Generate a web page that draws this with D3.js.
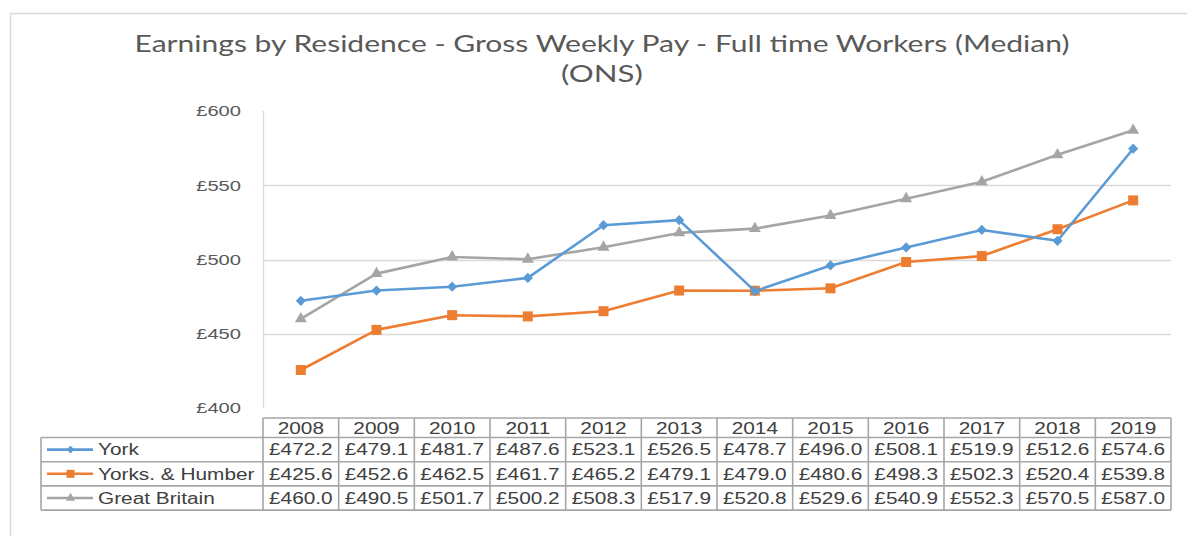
<!DOCTYPE html>
<html>
<head>
<meta charset="utf-8">
<script src="https://cdn.jsdelivr.net/npm/d3@7"></script>
<style>
  body { margin: 0; background: #fff; }
  svg { display: block; }
</style>
</head>
<body>
<script>
// chart values
var years = ["2008", "2009", "2010", "2011", "2012", "2013", "2014", "2015", "2016", "2017", "2018", "2019"];
var york = [472.2, 479.1, 481.7, 487.6, 523.1, 526.5, 478.7, 496.0, 508.1, 519.9, 512.6, 574.6];
var yorksHumber = [425.6, 452.6, 462.5, 461.7, 465.2, 479.1, 479.0, 480.6, 498.3, 502.3, 520.4, 539.8];
var greatBritain = [460.0, 490.5, 501.7, 500.2, 508.3, 517.9, 520.8, 529.6, 540.9, 552.3, 570.5, 587.0];
var seriesNames = ["York", "Yorks. & Humber", "Great Britain"];
var yTicks = [400, 450, 500, 550, 600];
var titleLines = ["Earnings by Residence - Gross Weekly Pay - Full time Workers (Median)", "(ONS)"];

var series = [
  {name: seriesNames[0], values: york, color: "#5b9bd5", shape: "diamond"},
  {name: seriesNames[1], values: yorksHumber, color: "#ed7d31", shape: "square"},
  {name: seriesNames[2], values: greatBritain, color: "#a5a5a5", shape: "triangle"}
];

var W = 1187, H = 536;
var plot = {left: 263, right: 1171, top: 111, bottom: 408};
var table = {left: 41, top: 418, headH: 19.5, rowH: 24.2};
var textCol = "#595959", gridCol = "#d9d9d9", borderCol = "#a6a6a6";
var stretchX = 1.3;

var svg = d3.select("body").append("svg")
    .attr("width", W)
    .attr("height", H);

// outer chart frame (cut off on right and bottom)
svg.append("path")
    .attr("d", "M10.5," + H + " V13.5 H" + W)
    .attr("fill", "none")
    .attr("stroke", gridCol)
    .attr("stroke-width", 1.5);

// stretch text horizontally like the source image
function stretch(sel, k) {
  sel.each(function() {
    var w = this.getComputedTextLength();
    d3.select(this)
      .attr("textLength", w * k)
      .attr("lengthAdjust", "spacingAndGlyphs");
  });
}

// title
svg.append("text")
    .attr("x", 602).attr("y", 52)
    .attr("text-anchor", "middle")
    .attr("font-family", "Lato, 'Open Sans', sans-serif")
    .attr("font-size", 24)
    .attr("fill", textCol)
    .text(titleLines[0])
    .attr("textLength", 935)
    .attr("lengthAdjust", "spacingAndGlyphs");

svg.append("text")
    .attr("x", 602).attr("y", 82)
    .attr("text-anchor", "middle")
    .attr("font-family", "Lato, 'Open Sans', sans-serif")
    .attr("font-size", 24)
    .attr("fill", textCol)
    .text(titleLines[1])
    .call(stretch, stretchX);

var x = d3.scaleBand()
    .domain(years)
    .range([plot.left, plot.right]);

var y = d3.scaleLinear()
    .domain([400, 600])
    .range([plot.bottom, plot.top]);

// gridlines (only the inner ones show in the reference)
svg.append("g")
  .selectAll("line")
  .data(yTicks.filter(function(d) { return d > 400 && d < 600; }))
  .enter().append("line")
    .attr("x1", plot.left).attr("x2", plot.right)
    .attr("y1", function(d) { return Math.round(y(d)) + 0.5; })
    .attr("y2", function(d) { return Math.round(y(d)) + 0.5; })
    .attr("stroke", gridCol)
    .attr("stroke-width", 1.3);

// value axis line
svg.append("line")
    .attr("x1", plot.left + 0.5).attr("x2", plot.left + 0.5)
    .attr("y1", plot.top).attr("y2", plot.bottom)
    .attr("stroke", gridCol)
    .attr("stroke-width", 1.3);

// y labels
var yAxis = d3.axisLeft(y)
    .tickValues(yTicks)
    .tickSize(0)
    .tickPadding(22)
    .tickFormat(function(d) { return "£" + d; });

var yG = svg.append("g")
    .attr("transform", "translate(" + plot.left + ",0)")
    .call(yAxis);
yG.select(".domain").remove();
yG.selectAll("text")
    .attr("font-family", "'Liberation Sans', Arial, sans-serif")
    .attr("font-size", 15.5)
    .attr("fill", textCol)
    .call(stretch, stretchX);

function symbolFor(shape) {
  if (shape === "square") return d3.symbol().type(d3.symbolSquare).size(100)();
  if (shape === "triangle") return d3.symbol().type(d3.symbolTriangle).size(62)();
  return d3.symbol().type(d3.symbolSquare).size(52)();
}

var line = d3.line()
    .x(function(d, i) { return x(years[i]) + x.bandwidth() / 2; })
    .y(function(d) { return y(d); });

// draw back to front: Great Britain, Yorks & Humber, York
series.slice().reverse().forEach(function(s) {
  var g = svg.append("g");
  g.append("path")
      .datum(s.values)
      .attr("d", line)
      .attr("fill", "none")
      .attr("stroke", s.color)
      .attr("stroke-width", 2.6)
      .attr("stroke-linejoin", "round");

  g.selectAll("path.mark")
    .data(s.values)
    .enter().append("path")
      .attr("class", "mark")
      .attr("d", symbolFor(s.shape))
      .attr("fill", s.color)
      .attr("transform", function(d, i) {
        var t = "translate(" + (x(years[i]) + x.bandwidth() / 2) + "," + y(d) + ")";
        return s.shape === "diamond" ? t + " rotate(45)" : t;
      });
});

// data table
var tbl = svg.append("g");
var rowsTop = table.top + table.headH;
var tableBottom = rowsTop + table.rowH * series.length;

// horizontal rules
tbl.append("line")
    .attr("x1", plot.left).attr("x2", plot.right)
    .attr("y1", table.top).attr("y2", table.top);
d3.range(series.length + 1).forEach(function(r) {
  tbl.append("line")
      .attr("x1", table.left).attr("x2", plot.right)
      .attr("y1", rowsTop + r * table.rowH)
      .attr("y2", rowsTop + r * table.rowH);
});
// vertical rules
tbl.append("line")
    .attr("x1", table.left).attr("x2", table.left)
    .attr("y1", rowsTop).attr("y2", tableBottom);
years.forEach(function(yr) {
  tbl.append("line")
      .attr("x1", x(yr)).attr("x2", x(yr))
      .attr("y1", table.top).attr("y2", tableBottom);
});
tbl.append("line")
    .attr("x1", plot.right).attr("x2", plot.right)
    .attr("y1", table.top).attr("y2", tableBottom);
tbl.selectAll("line")
    .attr("stroke", borderCol)
    .attr("stroke-width", 1.6);

function cellText(xp, yp, str, anchor) {
  return tbl.append("text")
      .attr("x", xp).attr("y", yp)
      .attr("dy", "0.36em")
      .attr("text-anchor", anchor)
      .attr("font-family", "'Liberation Sans', Arial, sans-serif")
      .attr("font-size", 16)
      .attr("fill", "#404040")
      .text(str)
      .call(stretch, stretchX);
}

// header years
years.forEach(function(yr) {
  cellText(x(yr) + x.bandwidth() / 2, table.top + table.headH / 2 + 0.5, yr, "middle");
});

var fmt = d3.format(".1f");
series.forEach(function(s, r) {
  var cy = rowsTop + r * table.rowH + table.rowH / 2;
  // legend key
  tbl.append("line")
      .attr("x1", 47).attr("x2", 93)
      .attr("y1", cy).attr("y2", cy)
      .attr("stroke", s.color)
      .attr("stroke-width", 2.6);
  var k = tbl.append("path")
      .attr("fill", s.color)
      .attr("transform", "translate(70.5," + cy + ")" + (s.shape === "diamond" ? " rotate(45)" : ""));
  if (s.shape === "square") k.attr("d", d3.symbol().type(d3.symbolSquare).size(64)());
  else if (s.shape === "triangle") k.attr("d", d3.symbol().type(d3.symbolTriangle).size(36)());
  else k.attr("d", d3.symbol().type(d3.symbolSquare).size(30)());

  var t = cellText(98, cy, s.name, "start");
  s.values.forEach(function(v, i) {
    cellText(x(years[i]) + x.bandwidth() / 2, cy, "£" + fmt(v), "middle");
  });
});
</script>
</body>
</html>
